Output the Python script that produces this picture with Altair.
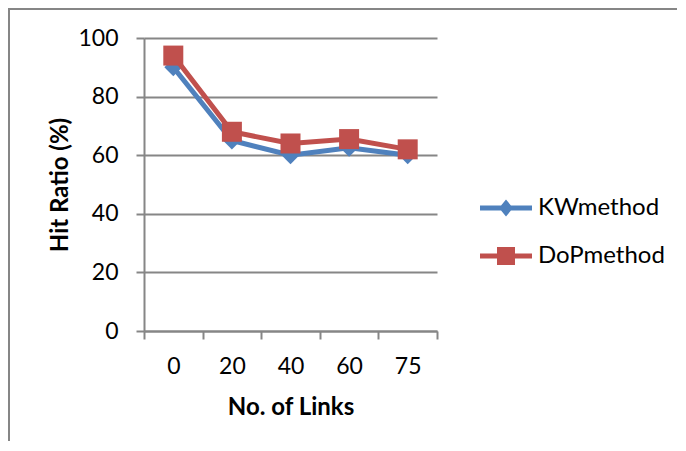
import altair as alt
import pandas as pd

links = ["0", "20", "40", "60", "75"]
kw_values = [90, 65, 60, 62.5, 60]
dop_values = [94, 68, 64, 65.5, 62]
series_names = ["KWmethod", "DoPmethod"]
series_colors = ["#4F81BD", "#C0504D"]
series_shapes = ["diamond", "square"]
series_sizes = [320, 400]
y_ticks = [0, 20, 40, 60, 80, 100]

df = pd.DataFrame({
    "links": links * 2,
    "ratio": kw_values + dop_values,
    "series": [series_names[0]] * len(links) + [series_names[1]] * len(links),
})

FONT = "Lato"
GRAY = "#868686"

kw_path = "M-26,-2.5L26,-2.5L26,2.5L-26,2.5Z M0,-8.5L7,0L0,8.5L-7,0Z"
dop_path = "M-26,-2.5L26,-2.5L26,2.5L-26,2.5Z M-9,-9L9,-9L9,9L-9,9Z"

legend = alt.Legend(
    title=None, orient="none", legendX=350, legendY=158,
    symbolSize=4, labelOffset=20, rowPadding=24, padding=0,
    labelFont=FONT, labelFontSize=24, labelColor="black",
    symbolType=alt.ExprRef(expr=f"datum.value === '{series_names[0]}' ? '{kw_path}' : '{dop_path}'"),
    symbolFillColor=alt.ExprRef(expr="scale('color', datum.value)"),
    symbolStrokeWidth=0,
    symbolOpacity=1,
)

x_enc = alt.X(
    "links:N", sort=links,
    scale=alt.Scale(type="band", paddingInner=0, paddingOuter=0),
    axis=alt.Axis(
        title="No. of Links", tickBand="extent", labelAngle=0, grid=False,
        domainColor=GRAY, domainWidth=2, tickColor=GRAY, tickWidth=2, tickSize=8,
        labelPadding=16, labelFont=FONT, labelFontSize=23, labelColor="black",
        titleFont=FONT, titleFontSize=24, titleFontWeight="bold", titleColor="black",
        titleY=83, titleBaseline="alphabetic",
    ),
)
y_enc = alt.Y(
    "ratio:Q",
    scale=alt.Scale(domain=[0, 100], nice=False),
    axis=alt.Axis(
        title="Hit Ratio (%)", values=y_ticks, grid=True, gridColor=GRAY, gridWidth=2,
        domainColor=GRAY, domainWidth=2, tickColor=GRAY, tickWidth=2, tickSize=8,
        labelPadding=18, labelFont=FONT, labelFontSize=23, labelColor="black",
        titleFont=FONT, titleFontSize=24, titleFontWeight="bold", titleColor="black",
        titleX=-77, titleY=146.5, titleAlign="center", titleBaseline="alphabetic",
    ),
)
color_enc = alt.Color(
    "series:N",
    scale=alt.Scale(domain=series_names, range=series_colors),
    legend=legend,
)

frame = alt.Chart(pd.DataFrame({"f": [0]})).mark_rect(
    fill="white", fillOpacity=0, stroke=GRAY, strokeWidth=2
).encode(
    x=alt.value(-135), x2=alt.value(700), y=alt.value(-29), y2=alt.value(700)
)

layers = [frame]
for i, name in enumerate(series_names):
    base = alt.Chart(df).transform_filter(alt.datum.series == name)
    layers.append(base.mark_line(strokeWidth=5).encode(x=x_enc, y=y_enc, color=color_enc))
    layers.append(
        base.mark_point(shape=series_shapes[i], filled=True, size=series_sizes[i], opacity=1)
        .encode(x=x_enc, y=y_enc, color=color_enc)
    )

chart = alt.layer(*layers).properties(
    width=293, height=293,
    autosize=alt.AutoSizeParams(type="none"),
    padding={"left": 136, "top": 30, "right": 240, "bottom": 110},
).configure_view(stroke=None)

chart.save("out.html", embed_options={"renderer": "svg", "actions": False})
